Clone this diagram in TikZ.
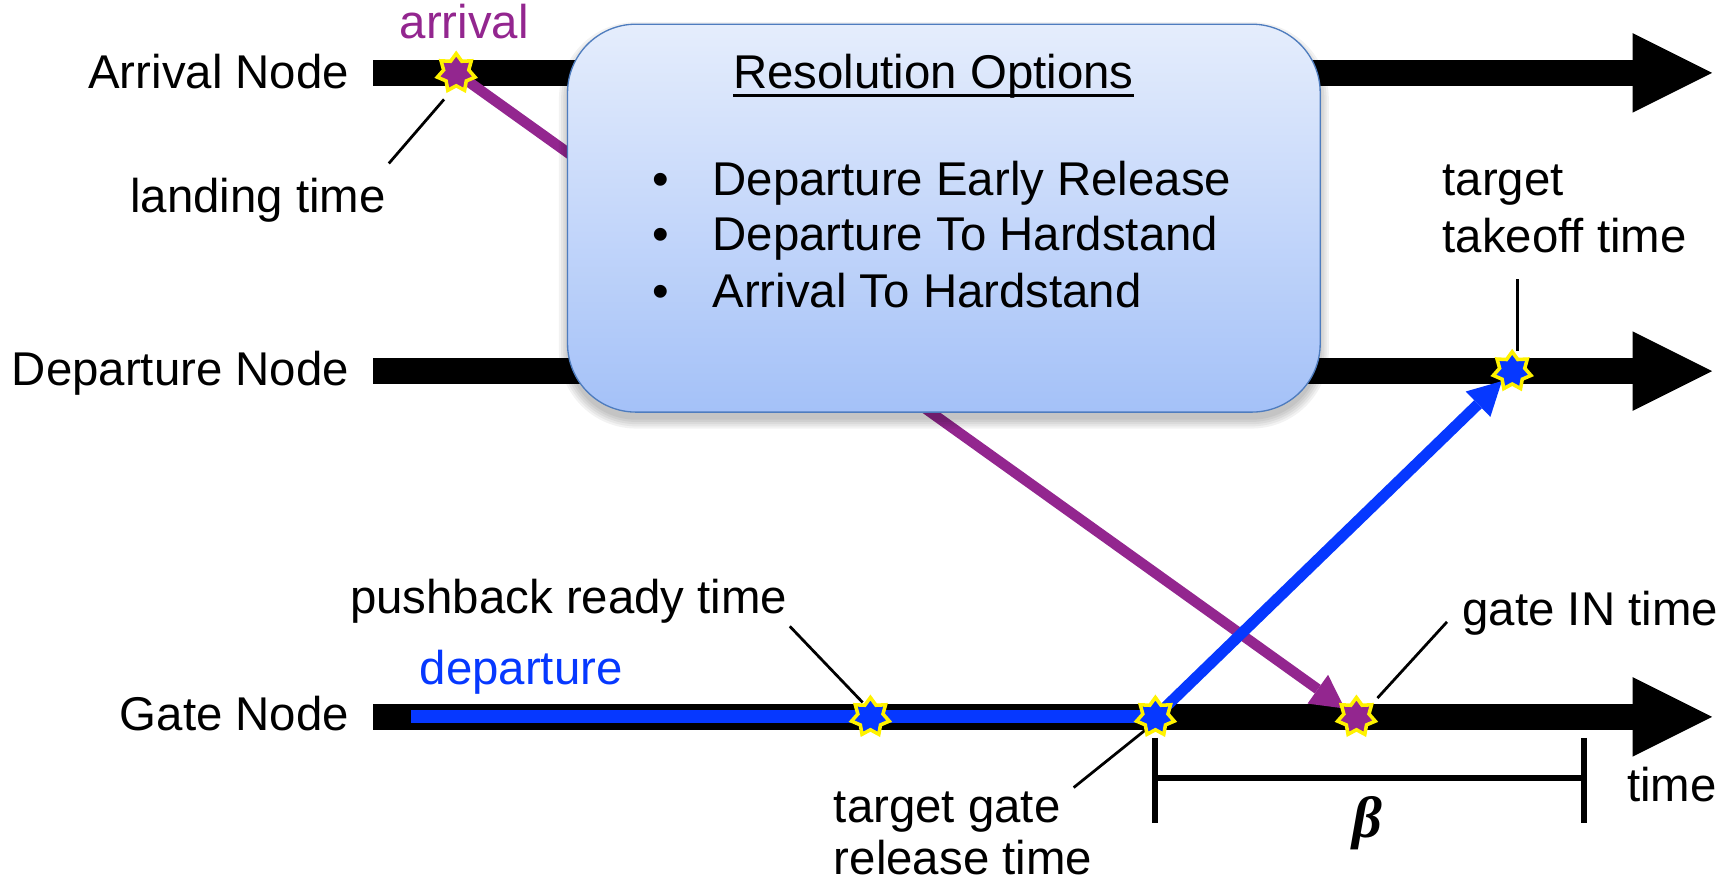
\documentclass[tikz,border=0pt]{standalone}
\usepackage{fontspec}
\setmainfont{Liberation Sans}
\newfontfamily\greekserif{Liberation Serif}
\usetikzlibrary{arrows.meta,shapes.geometric}
\definecolor{arrpurple}{RGB}{147,38,143}
\definecolor{depblue}{RGB}{6,56,255}
\definecolor{staredge}{RGB}{255,242,0}
\definecolor{boxtop}{RGB}{229,237,252}
\definecolor{boxbot}{RGB}{164,193,248}
\definecolor{boxedge}{RGB}{78,124,190}
\begin{document}
\begin{tikzpicture}[x=0.01cm,y=-0.01cm,
  lbl/.style={font=\fontsize{12.2}{14.6}\selectfont, inner sep=0pt, outer sep=0pt},
  timeline/.style={line width=0.24cm, line cap=butt,
    -{Triangle[length=0.72cm,width=0.72cm,line width=0pt]}},
  ev/.style={star, star points=7, star point ratio=1.5, minimum size=0.35cm,
    inner sep=0pt, draw=staredge, line width=0.032cm},
  flow/.style={line width=0.1cm, shorten >=0.13cm,
    -{Triangle[length=0.3cm,width=0.32cm,line width=0pt]}},
  callout/.style={line width=0.025cm, black},
  bracket/.style={line width=0.055cm, black},
  optbox/.style={rectangle, rounded corners=0.62cm, draw=boxedge, line width=0.012cm,
    top color=boxtop, bottom color=boxbot, minimum width=6.81cm, minimum height=3.51cm},
  boxshade/.style={fill=black, fill opacity=0.05, draw=none},
]
\useasboundingbox (0,0) rectangle (1568,798);

% event positions
\coordinate (pLand) at (413,66);
\coordinate (pPbr) at (788,649);
\coordinate (pTgr) at (1046,649);
\coordinate (pGin) at (1228,649);
\coordinate (pTto) at (1369,336);

% ends of the three time lines
\coordinate (a0) at (338,66);  \coordinate (a1) at (1550,66);
\coordinate (d0) at (338,336); \coordinate (d1) at (1550,336);
\coordinate (g0) at (338,649); \coordinate (g1) at (1550,649);
\coordinate (dep0) at (372,649);

\draw[timeline] (a0) -- (a1);
\draw[timeline] (d0) -- (d1);
\draw[timeline] (g0) -- (g1);
\draw[depblue, line width=0.12cm] (dep0) -- (pTgr);
\draw[flow, arrpurple, line width=0.095cm] (pLand) -- (pGin);

% soft shadow under the options box
\foreach \k in {0,2,4,6,8} {
  \fill[boxshade, rounded corners=0.62cm+\k*0.01cm]
    (514-\k,28-\k) rectangle (1195+\k,380+\k);
}

% resolution options box
\node[optbox] (opts) at (854.5,197.5) {};
\node[lbl, anchor=base] (title) at (845,80) {Resolution Options};
\draw[line width=0.02cm] ([yshift=-0.065cm]title.base west) -- ([yshift=-0.065cm]title.base east);
\node[lbl, anchor=base] (b1) at (598,177) {•};
\node[lbl, anchor=base] (b2) at (598,227) {•};
\node[lbl, anchor=base] (b3) at (598,278) {•};
\node[lbl, anchor=base west] (o1) at (645,177) {Departure Early Release};
\node[lbl, anchor=base west] (o2) at (645,227) {Departure To Hardstand};
\node[lbl, anchor=base west] (o3) at (645,278) {Arrival To Hardstand};

\draw[flow, depblue] (pTgr) -- (pTto);

% node names
\node[lbl, anchor=base east] (lA) at (316,80) {Arrival Node};
\node[lbl, anchor=base east] (lD) at (316,349) {Departure Node};
\node[lbl, anchor=base east] (lG) at (316,661) {Gate Node};

% flight labels
\node[lbl, anchor=base west, text=arrpurple] (tArr) at (362,35) {arrival};
\node[lbl, anchor=base west, text=depblue] (tDep) at (380,620) {departure};

% event labels
\node[lbl, anchor=base west] (tLand) at (118,192) {landing time};
\node[lbl, anchor=base west] (tPush) at (317,555) {pushback ready time};
\node[lbl, anchor=base west] (tTgt1) at (755,745) {target gate};
\node[lbl, anchor=base west] (tTgt2) at (755,792) {release time};
\node[lbl, anchor=base west] (tIn) at (1324,566) {gate IN time};
\node[lbl, anchor=base west] (tTo1) at (1306,177) {target};
\node[lbl, anchor=base west] (tTo2) at (1306,229) {takeoff time};
\node[lbl, anchor=base west] (tTime) at (1473,726) {time};

% callout leaders
\coordinate (cLand) at (352,148);  \coordinate (cLandE) at (402,90);
\coordinate (cPush) at (715,567);  \coordinate (cPushE) at (781,636);
\coordinate (cTgt) at (972,713);   \coordinate (cTgtE) at (1038,660);
\coordinate (cIn) at (1310,563);   \coordinate (cInE) at (1247,632);
\coordinate (cTo) at (1374,253);   \coordinate (cToE) at (1374,318);
\draw[callout] (cLand) -- (cLandE);
\draw[callout] (cPush) -- (cPushE);
\draw[callout] (cTgt) -- (cTgtE);
\draw[callout] (cIn) -- (cInE);
\draw[callout] (cTo) -- (cToE);

% beta interval
\coordinate (k0t) at (1046,668); \coordinate (k0b) at (1046,745);
\coordinate (k1t) at (1434,668); \coordinate (k1b) at (1434,745);
\coordinate (k0m) at (1046,704); \coordinate (k1m) at (1434,704);
\draw[bracket] (k0t) -- (k0b);
\draw[bracket] (k1t) -- (k1b);
\draw[bracket] (k0m) -- (k1m);
\node[inner sep=0pt, font=\greekserif\bfseries\itshape\fontsize{15}{18}\selectfont] (beta) at (1238,745) {β};

% event markers on top
\node[ev, fill=arrpurple] (land) at (pLand) {};
\node[ev, fill=depblue] (pbr) at (pPbr) {};
\node[ev, fill=depblue] (tgr) at (pTgr) {};
\node[ev, fill=arrpurple] (gin) at (pGin) {};
\node[ev, fill=depblue] (tto) at (pTto) {};
\end{tikzpicture}
\end{document}
